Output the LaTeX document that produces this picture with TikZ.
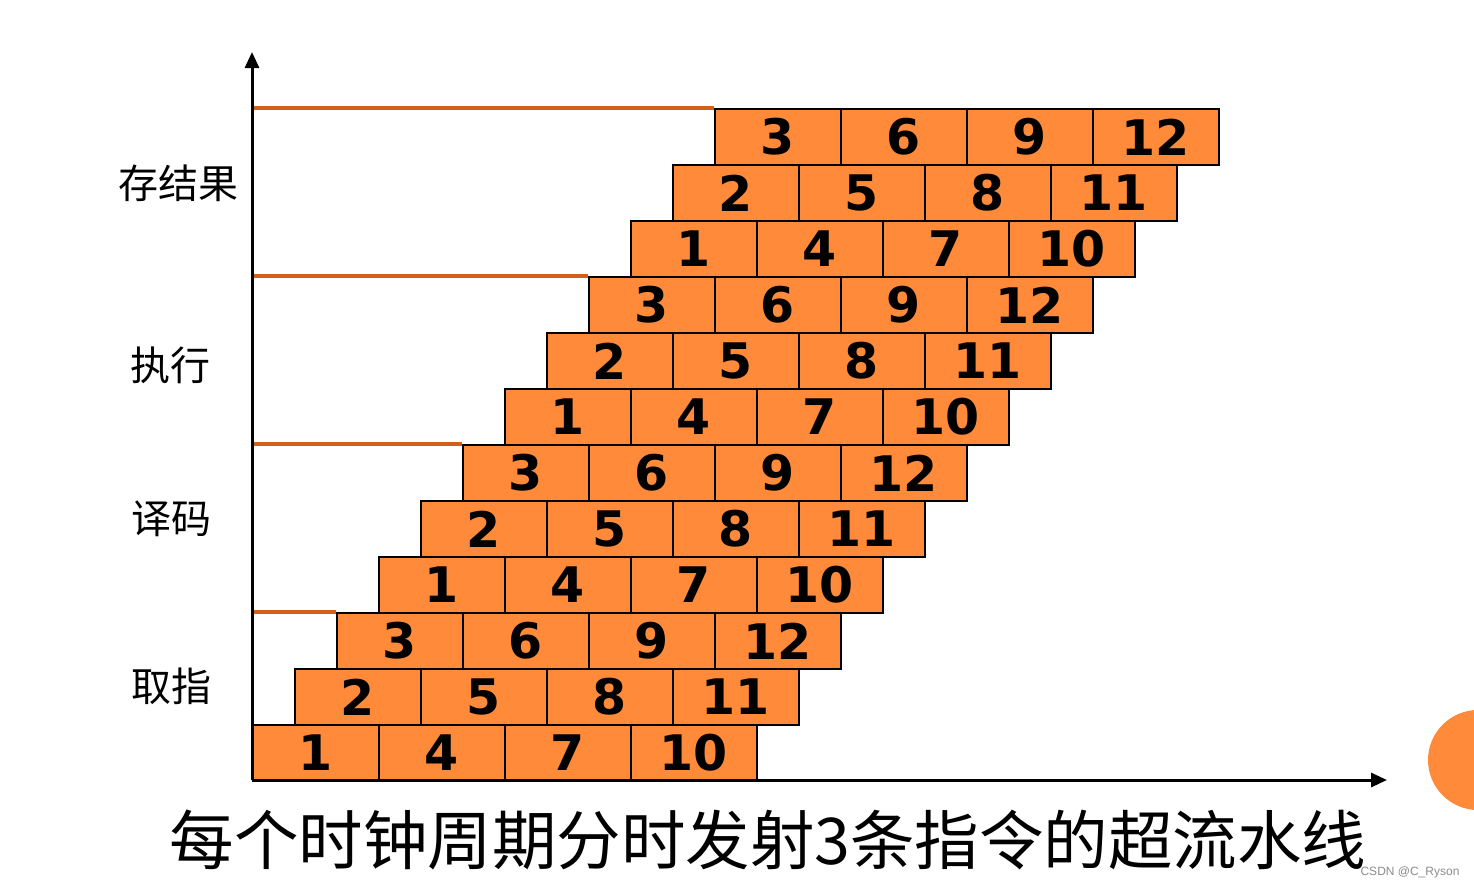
\documentclass[tikz,border=0pt]{standalone}
\usepackage{fontspec}
\setmainfont{DejaVu Sans}
\newfontfamily\cjk{Noto Sans CJK SC}
\newfontfamily\wmfont{Liberation Sans}
\usetikzlibrary{arrows.meta}
\definecolor{cellfill}{HTML}{FF8A3A}
\definecolor{stageline}{HTML}{D2601A}
\begin{document}
\begin{tikzpicture}[x=1pt,y=-1pt,
  cell/.style={draw=black, line width=2pt, fill=cellfill, minimum width=126pt, minimum height=56pt, inner sep=0pt, anchor=north west, font=\fontsize{49}{49}\selectfont\bfseries},
  stagelabel/.style={font=\cjk\fontsize{40}{40}\selectfont, inner sep=0pt},
  axisline/.style={line width=3pt, -{Triangle[width=14pt,length=16pt]}},
  sepline/.style={draw=stageline, line width=4.5pt}
]
\useasboundingbox (0,0) rectangle (1474,889);
\fill[white] (0,0) rectangle (1474,889);
% cells
\foreach \r in {0,...,11}{
  \pgfmathtruncatemacro{\k}{mod(\r,3)}
  \foreach \c in {0,...,3}{
    \pgfmathtruncatemacro{\num}{\k+1+3*\c}
    \node[cell] (b-\r-\c) at ({251.5+42*\r+126*\c},{724-56*\r}) {\num};
  }
}
\coordinate (origin) at (252,780);
\coordinate (ytip) at (252,52);
\coordinate (xtip) at (1387,780);
% stage separator lines
\foreach \r in {2,5,8,11}{
  \draw[sepline] (origin |- b-\r-0.north west) -- (b-\r-0.north west);
}
% axes
\draw[axisline] (origin) -- (ytip);
\draw[axisline] (origin) -- (xtip);
% labels
\node[stagelabel] (l4) at (178,183) {存结果};
\node[stagelabel] (l3) at (170,365) {执行};
\node[stagelabel] (l2) at (171,519) {译码};
\node[stagelabel] (l1) at (171,686) {取指};
\node[font=\cjk\fontsize{64.5}{64.5}\selectfont, inner sep=0pt] (title) at (768,840) {每个时钟周期分时发射3条指令的超流水线};
% decoration circle
\fill[cellfill] (1478,760) circle (50);
\node[font=\wmfont\fontsize{12}{12}\selectfont, text=black!45, inner sep=0pt] (wm) at (1410,872) {CSDN @C\_Ryson};
\end{tikzpicture}
\end{document}
